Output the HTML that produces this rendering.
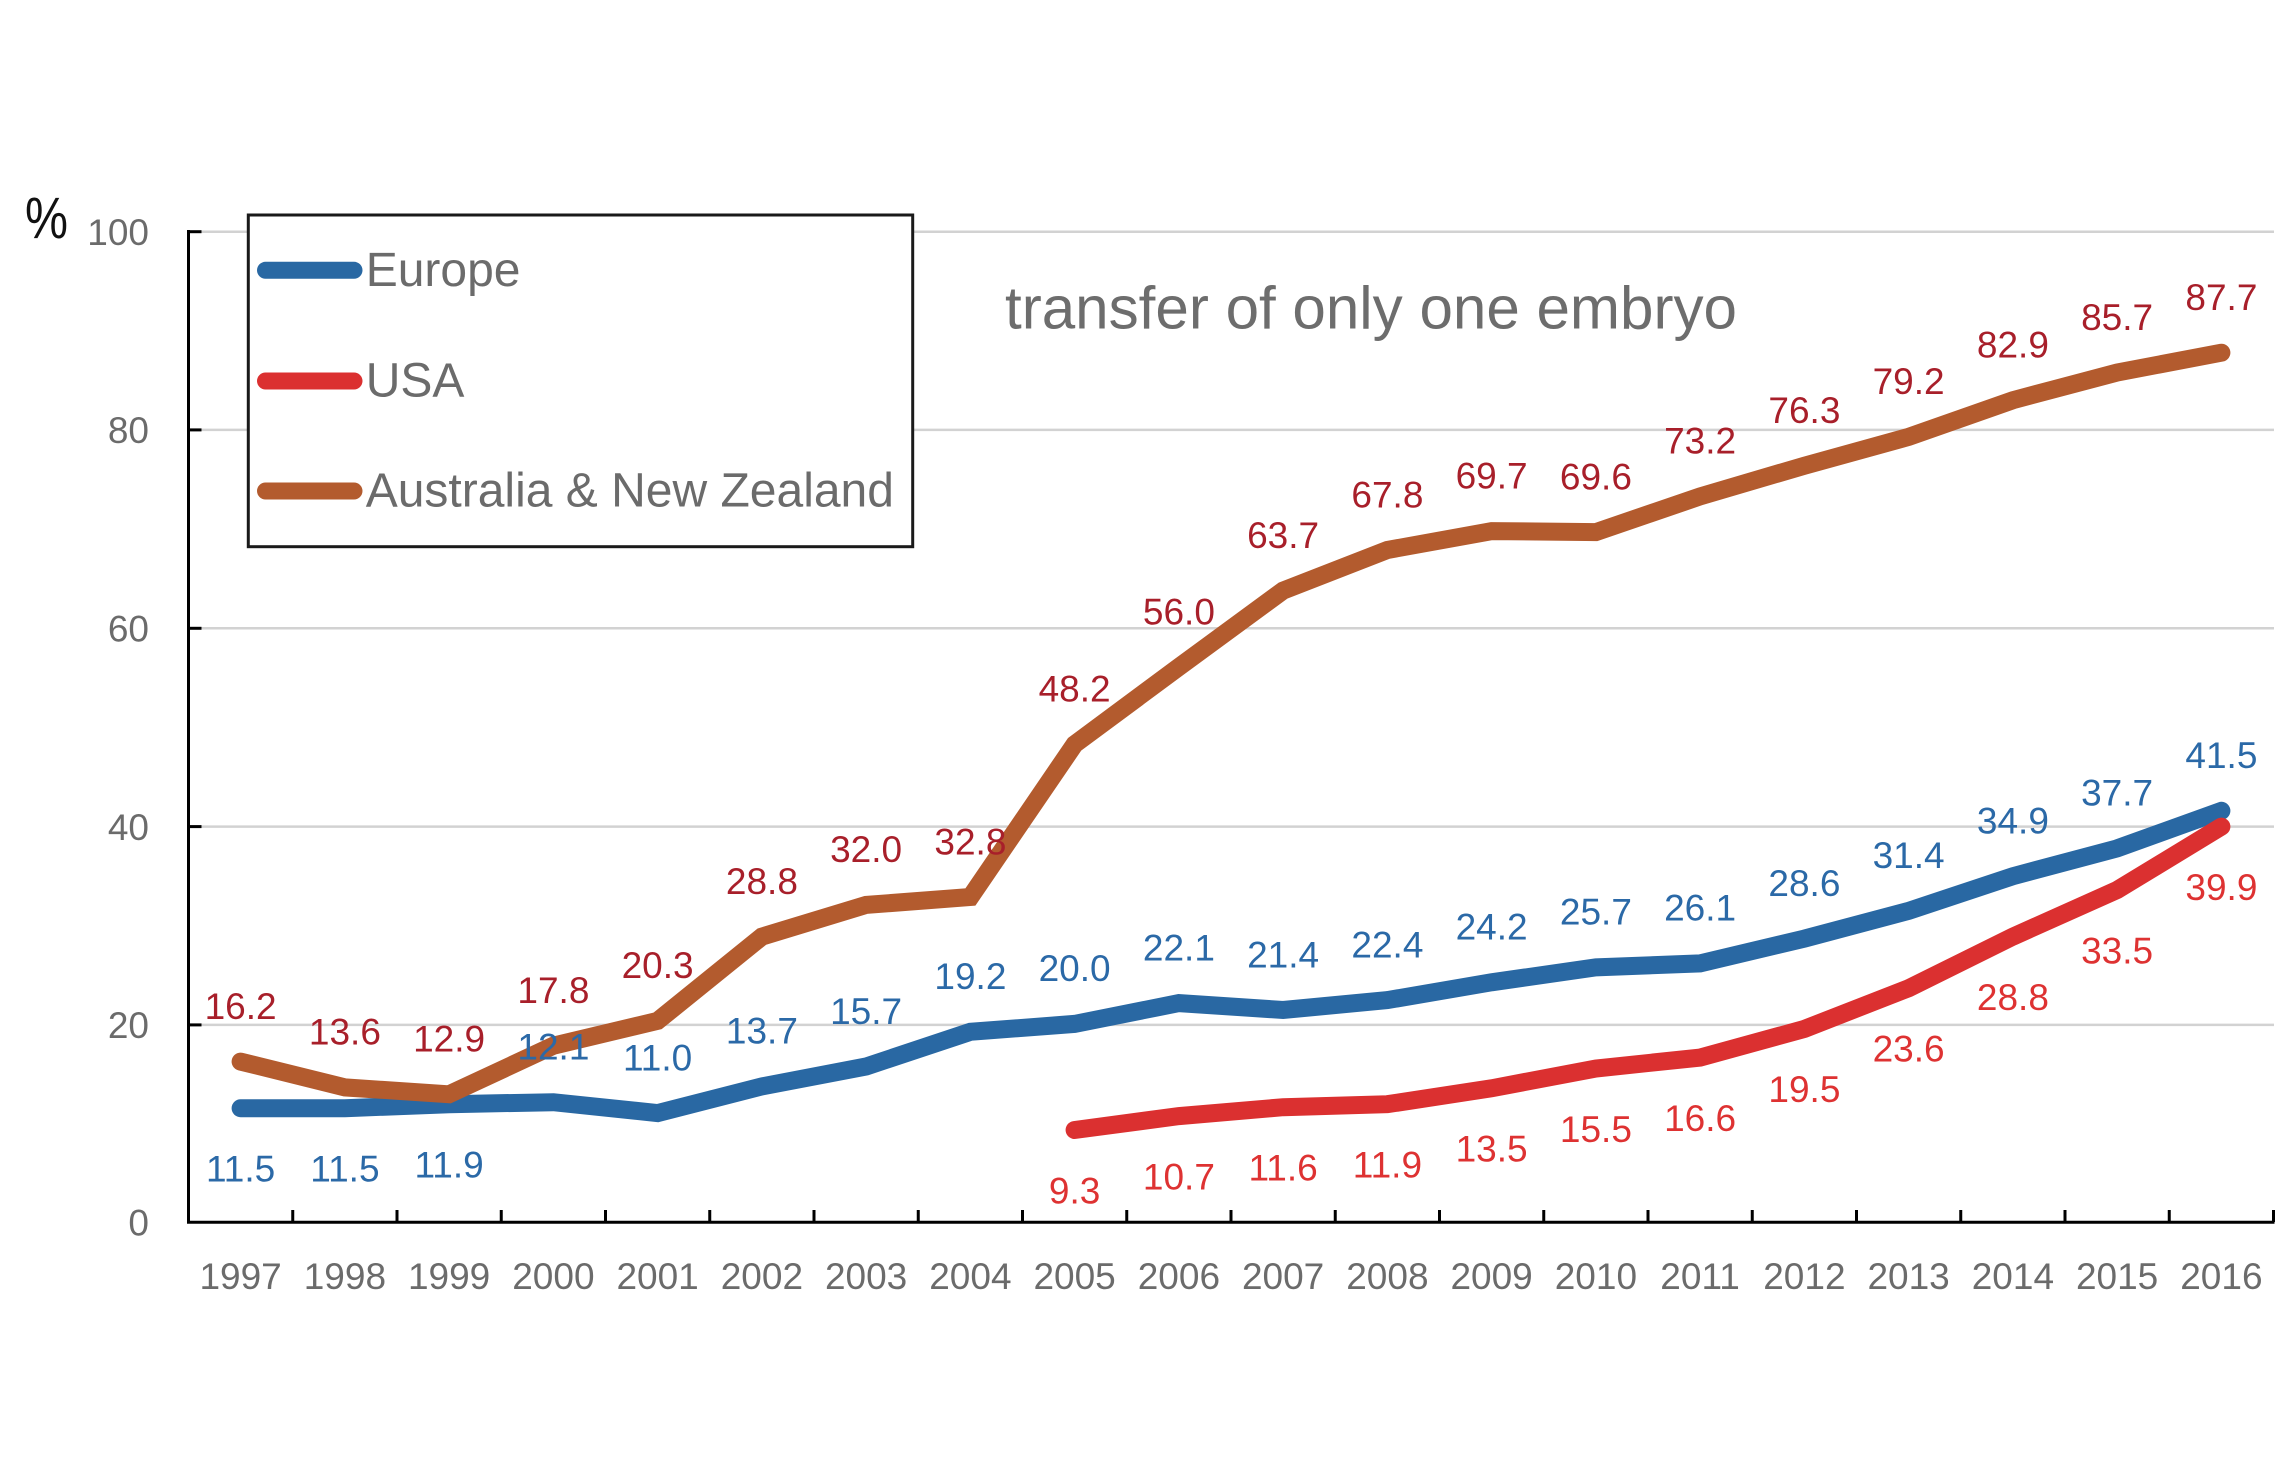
<!DOCTYPE html>
<html>
<head>
<meta charset="utf-8">
<style>
html,body{margin:0;padding:0;background:#fff;}
svg{display:block;}
text{font-family:"Liberation Sans",Arial,sans-serif;}
</style>
</head>
<body>
<svg width="2296" height="1475" viewBox="0 0 2296 1475" xmlns="http://www.w3.org/2000/svg">
<rect width="2296" height="1475" fill="#fff"/>

<!-- gridlines -->
<g stroke="#d2d2d2" stroke-width="2.5">
<line x1="190" y1="1024.9" x2="2274" y2="1024.9"/>
<line x1="190" y1="826.6" x2="2274" y2="826.6"/>
<line x1="190" y1="628.3" x2="2274" y2="628.3"/>
<line x1="190" y1="429.9" x2="2274" y2="429.9"/>
<line x1="190" y1="231.7" x2="2274" y2="231.7"/>
</g>

<!-- series lines -->
<g fill="none" stroke-width="18" stroke-linecap="round" stroke-linejoin="miter" stroke-miterlimit="4">
<polyline stroke="#2968a3" points="240.6,1108.2 344.9,1108.2 449.1,1104.2 553.4,1102.2 657.6,1113.1 761.9,1086.4 866.1,1066.5 970.4,1031.8 1074.6,1023.9 1178.9,1003.1 1283.1,1010.0 1387.4,1000.1 1491.6,982.3 1595.9,967.4 1700.1,963.4 1804.4,938.6 1908.6,910.9 2012.9,876.2 2117.1,848.4 2221.4,810.8"/>
<polyline stroke="#db3030" points="1074.6,1130.0 1178.9,1116.1 1283.1,1107.2 1387.4,1104.2 1491.6,1088.3 1595.9,1068.5 1700.1,1057.6 1804.4,1028.9 1908.6,988.2 2012.9,936.6 2117.1,890.0 2221.4,826.6"/>
<polyline stroke="#b35b2e" points="240.6,1061.6 344.9,1087.4 449.1,1094.3 553.4,1045.7 657.6,1020.9 761.9,936.6 866.1,904.9 970.4,897.0 1074.6,744.3 1178.9,667.0 1283.1,590.6 1387.4,550.0 1491.6,531.1 1595.9,532.1 1700.1,496.4 1804.4,465.7 1908.6,436.9 2012.9,400.2 2117.1,372.5 2221.4,352.7"/>
</g>

<!-- axes -->
<g stroke="#000" stroke-width="3">
<line x1="188.5" y1="230" x2="188.5" y2="1223.5"/>
<line x1="187" y1="1222.2" x2="2274.5" y2="1222.2"/>
<line x1="188.5" y1="1024.9" x2="201.5" y2="1024.9"/>
<line x1="188.5" y1="826.6" x2="201.5" y2="826.6"/>
<line x1="188.5" y1="628.3" x2="201.5" y2="628.3"/>
<line x1="188.5" y1="429.9" x2="201.5" y2="429.9"/>
<line x1="188.5" y1="231.7" x2="201.5" y2="231.7"/>
<line x1="292.75" y1="1210" x2="292.75" y2="1222"/>
<line x1="397" y1="1210" x2="397" y2="1222"/>
<line x1="501.25" y1="1210" x2="501.25" y2="1222"/>
<line x1="605.5" y1="1210" x2="605.5" y2="1222"/>
<line x1="709.75" y1="1210" x2="709.75" y2="1222"/>
<line x1="814" y1="1210" x2="814" y2="1222"/>
<line x1="918.25" y1="1210" x2="918.25" y2="1222"/>
<line x1="1022.5" y1="1210" x2="1022.5" y2="1222"/>
<line x1="1126.75" y1="1210" x2="1126.75" y2="1222"/>
<line x1="1231" y1="1210" x2="1231" y2="1222"/>
<line x1="1335.25" y1="1210" x2="1335.25" y2="1222"/>
<line x1="1439.5" y1="1210" x2="1439.5" y2="1222"/>
<line x1="1543.75" y1="1210" x2="1543.75" y2="1222"/>
<line x1="1648" y1="1210" x2="1648" y2="1222"/>
<line x1="1752.25" y1="1210" x2="1752.25" y2="1222"/>
<line x1="1856.5" y1="1210" x2="1856.5" y2="1222"/>
<line x1="1960.75" y1="1210" x2="1960.75" y2="1222"/>
<line x1="2065" y1="1210" x2="2065" y2="1222"/>
<line x1="2169.25" y1="1210" x2="2169.25" y2="1222"/>
<line x1="2273.5" y1="1210" x2="2273.5" y2="1222"/>
</g>

<!-- y tick labels -->
<g font-size="37" fill="#6b6b6b" text-anchor="end">
<text x="149" y="1235.5">0</text>
<text x="149" y="1038.2">20</text>
<text x="149" y="839.9">40</text>
<text x="149" y="641.6">60</text>
<text x="149" y="443.2">80</text>
<text x="149" y="245">100</text>
</g>

<!-- x tick labels -->
<g font-size="37" fill="#6b6b6b" text-anchor="middle">
<text x="240.6" y="1289">1997</text>
<text x="344.9" y="1289">1998</text>
<text x="449.1" y="1289">1999</text>
<text x="553.4" y="1289">2000</text>
<text x="657.6" y="1289">2001</text>
<text x="761.9" y="1289">2002</text>
<text x="866.1" y="1289">2003</text>
<text x="970.4" y="1289">2004</text>
<text x="1074.6" y="1289">2005</text>
<text x="1178.9" y="1289">2006</text>
<text x="1283.1" y="1289">2007</text>
<text x="1387.4" y="1289">2008</text>
<text x="1491.6" y="1289">2009</text>
<text x="1595.9" y="1289">2010</text>
<text x="1700.1" y="1289">2011</text>
<text x="1804.4" y="1289">2012</text>
<text x="1908.6" y="1289">2013</text>
<text x="2012.9" y="1289">2014</text>
<text x="2117.1" y="1289">2015</text>
<text x="2221.4" y="1289">2016</text>
</g>

<!-- % label -->
<text x="25" y="238" font-size="58" fill="#111" textLength="43" lengthAdjust="spacingAndGlyphs">%</text>

<!-- title -->
<text x="1005" y="328.3" font-size="60" fill="#6d6d6d" textLength="732" lengthAdjust="spacingAndGlyphs">transfer of only one embryo</text>

<!-- legend -->
<rect x="248.3" y="215" width="664.4" height="331.7" fill="#fff" stroke="#1a1a1a" stroke-width="3"/>
<g stroke-width="17" stroke-linecap="round">
<line x1="265.5" y1="270.3" x2="354" y2="270.3" stroke="#2968a3"/>
<line x1="265.5" y1="381" x2="354" y2="381" stroke="#db3030"/>
<line x1="265.5" y1="491" x2="354" y2="491" stroke="#b35b2e"/>
</g>
<g font-size="48" fill="#6b6b6b">
<text x="365.7" y="286">Europe</text>
<text x="365.7" y="396.7">USA</text>
<text x="365.7" y="506.7">Australia &amp; New Zealand</text>
</g>

<!-- Europe labels -->
<g font-size="37" fill="#2b69a7" text-anchor="middle">
<text x="240.6" y="1181.5">11.5</text>
<text x="344.9" y="1181.5">11.5</text>
<text x="449.1" y="1177.5">11.9</text>
<text x="553.4" y="1059.5">12.1</text>
<text x="657.6" y="1070.4">11.0</text>
<text x="761.9" y="1043.7">13.7</text>
<text x="866.1" y="1023.8">15.7</text>
<text x="970.4" y="989.1">19.2</text>
<text x="1074.6" y="981.2">20.0</text>
<text x="1178.9" y="960.4">22.1</text>
<text x="1283.1" y="967.3">21.4</text>
<text x="1387.4" y="957.4">22.4</text>
<text x="1491.6" y="939.6">24.2</text>
<text x="1595.9" y="924.7">25.7</text>
<text x="1700.1" y="920.7">26.1</text>
<text x="1804.4" y="895.9">28.6</text>
<text x="1908.6" y="868.2">31.4</text>
<text x="2012.9" y="833.5">34.9</text>
<text x="2117.1" y="805.7">37.7</text>
<text x="2221.4" y="768.1">41.5</text>
</g>

<!-- USA labels -->
<g font-size="37" fill="#de3232" text-anchor="middle">
<text x="1074.6" y="1203.3">9.3</text>
<text x="1178.9" y="1189.4">10.7</text>
<text x="1283.1" y="1180.5">11.6</text>
<text x="1387.4" y="1177.5">11.9</text>
<text x="1491.6" y="1161.6">13.5</text>
<text x="1595.9" y="1141.8">15.5</text>
<text x="1700.1" y="1130.9">16.6</text>
<text x="1804.4" y="1102.2">19.5</text>
<text x="1908.6" y="1061.5">23.6</text>
<text x="2012.9" y="1009.9">28.8</text>
<text x="2117.1" y="963.3">33.5</text>
<text x="2221.4" y="899.9">39.9</text>
</g>

<!-- ANZ labels -->
<g font-size="37" fill="#a81f2a" text-anchor="middle">
<text x="240.6" y="1018.9">16.2</text>
<text x="344.9" y="1044.7">13.6</text>
<text x="449.1" y="1051.6">12.9</text>
<text x="553.4" y="1003.0">17.8</text>
<text x="657.6" y="978.2">20.3</text>
<text x="761.9" y="893.9">28.8</text>
<text x="866.1" y="862.2">32.0</text>
<text x="970.4" y="854.3">32.8</text>
<text x="1074.6" y="701.6">48.2</text>
<text x="1178.9" y="624.3">56.0</text>
<text x="1283.1" y="547.9">63.7</text>
<text x="1387.4" y="507.3">67.8</text>
<text x="1491.6" y="488.4">69.7</text>
<text x="1595.9" y="489.4">69.6</text>
<text x="1700.1" y="453.7">73.2</text>
<text x="1804.4" y="423.0">76.3</text>
<text x="1908.6" y="394.2">79.2</text>
<text x="2012.9" y="357.5">82.9</text>
<text x="2117.1" y="329.8">85.7</text>
<text x="2221.4" y="310.0">87.7</text>
</g>
</svg>
</body>
</html>
